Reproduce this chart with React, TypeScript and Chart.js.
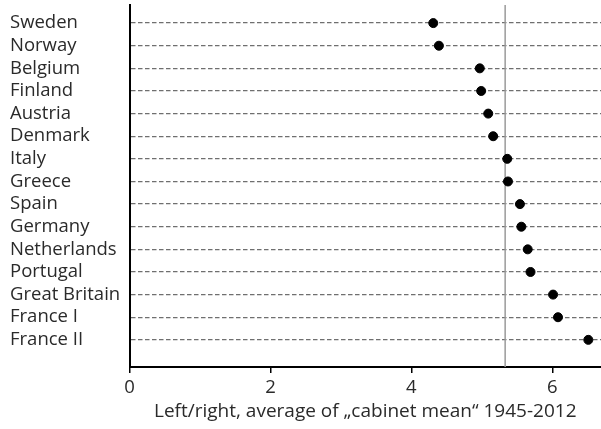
import React, { useEffect, useRef } from "react";
import { Chart, registerables } from "chart.js";

Chart.register(...registerables);

const countries = [
  "Sweden", "Norway", "Belgium", "Finland", "Austria", "Denmark", "Italy", "Greece",
  "Spain", "Germany", "Netherlands", "Portugal", "Great Britain", "France I", "France II",
];
const cabinetMean = [4.31, 4.39, 4.97, 4.99, 5.09, 5.16, 5.36, 5.37, 5.54, 5.56, 5.65, 5.69, 6.01, 6.08, 6.51];
const overallMean = 5.33;
const xTicks = [0, 2, 4, 6];
const xTitle = "Left/right, average of \u201Ecabinet mean\u201C 1945-2012";

const FONT = "'Open Sans', 'Noto Sans', sans-serif";

export default function App() {
  const ref = useRef<HTMLCanvasElement | null>(null);
  useEffect(() => {
    if (!ref.current) return;
    const yMin = -0.8;
    const yMax = countries.length - 1 + 1.2;
    const chart = new Chart(ref.current, {
      type: "scatter",
      data: {
        datasets: [
          {
            data: cabinetMean.map((v, i) => ({ x: v, y: i })),
            backgroundColor: "#000",
            borderColor: "#000",
            pointRadius: 4.5,
            pointHoverRadius: 4.5,
            clip: false,
            order: 0,
          },
          {
            data: [
              { x: overallMean, y: yMin },
              { x: overallMean, y: yMax },
            ],
            showLine: true,
            borderColor: "#9a9a9a",
            borderWidth: 1.5,
            pointRadius: 0,
            order: 1,
          },
        ],
      },
      options: {
        responsive: false,
        animation: false,
        devicePixelRatio: 1,
        layout: { autoPadding: false, padding: { top: 5, right: 0, bottom: 0, left: 10 } },
        plugins: { legend: { display: false }, tooltip: { enabled: false } },
        scales: {
          x: {
            type: "linear",
            min: 0,
            max: 6.69,
            afterBuildTicks: (s: any) => {
              s.ticks = xTicks.map((v) => ({ value: v }));
            },
            afterFit: (s: any) => {
              s.height = 62;
              s.paddingLeft = 0;
              s.paddingRight = 0;
            },
            grid: { drawOnChartArea: false, drawTicks: true, tickLength: 6, color: "#000", lineWidth: 1.5 },
            border: { display: true, color: "#000", width: 2 },
            ticks: { color: "#2a2a2a", font: { family: FONT, size: 18.5 }, padding: 4 },
            title: { display: true, text: xTitle, color: "#2a2a2a", font: { family: FONT, size: 19 }, padding: { top: 0, bottom: 6 } },
          },
          y: {
            type: "linear",
            reverse: true,
            min: yMin,
            max: yMax,
            afterBuildTicks: (s: any) => {
              s.ticks = countries.map((_, i) => ({ value: i }));
            },
            afterFit: (s: any) => {
              s.width = 119.5;
              s.paddingTop = 0;
              s.paddingBottom = 0;
            },
            grid: { drawTicks: false, color: "#6f6f6f", lineWidth: 1.3 },
            border: { display: true, color: "#000", width: 2, dash: [4.5, 2.5] },
            ticks: {
              crossAlign: "far",
              color: "#2a2a2a",
              padding: 0,
              font: { family: FONT, size: 18.5 },
              callback: (v: any) => countries[v as number] ?? "",
            },
          },
        },
      },
    });
    return () => chart.destroy();
  }, []);
  return (
    <div style={{ position: "fixed", left: 0, top: 0, width: 601, height: 429, background: "#fff" }}>
      <canvas ref={ref} width={601} height={429} />
    </div>
  );
}
